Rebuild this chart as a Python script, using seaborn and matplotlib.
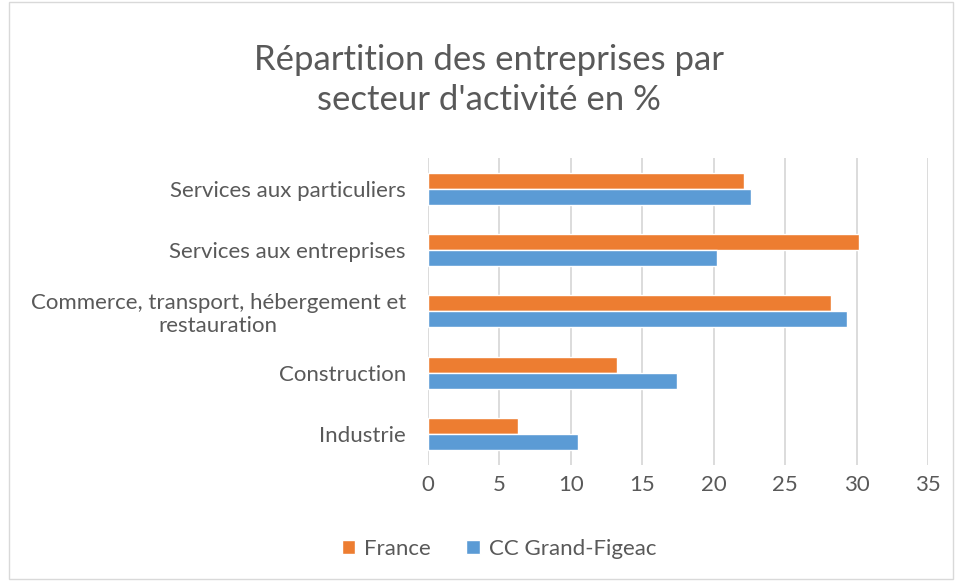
import matplotlib
matplotlib.use("Agg")
import matplotlib.pyplot as plt
import seaborn as sns
import pandas as pd
from matplotlib.patches import Rectangle

categories = ["Services aux particuliers", "Services aux entreprises",
              "Commerce, transport, hébergement et\nrestauration",
              "Construction", "Industrie"]
france = [22.1, 30.2, 28.2, 13.2, 6.3]
cc_figeac = [22.6, 20.2, 29.3, 17.4, 10.5]
series = ["France", "CC Grand-Figeac"]
xticks = [0, 5, 10, 15, 20, 25, 30, 35]

df = pd.DataFrame({
    "cat": categories * 2,
    "val": france + cc_figeac,
    "serie": [series[0]] * len(categories) + [series[1]] * len(categories),
})

sns.set_theme(style="white")
plt.rcParams["font.family"] = ["Lato", "DejaVu Sans"]
txt = "#595959"

fig = plt.figure(figsize=(9.56, 5.81), dpi=100)
ax = fig.add_axes([0.4477, 0.2, 0.523, 0.528])
sns.barplot(data=df, y="cat", x="val", hue="serie", order=categories,
            hue_order=series, palette=["#ED7D31", "#5B9BD5"], orient="h",
            width=0.52, ax=ax, legend=True, saturation=1)
ax.set_xlim(0, 35)
ax.set_ylim(4.5, -0.5)
ax.set_xticks(xticks)
ax.set_xticklabels([str(t) for t in xticks])
ax.xaxis.grid(True, color="#D9D9D9", linewidth=1.3)
ax.set_axisbelow(True)
for s in ax.spines.values():
    s.set_visible(False)
ax.set_xlabel("")
ax.set_ylabel("")
ax.tick_params(axis="both", length=0, labelsize=16, colors=txt)
ax.tick_params(axis="y", pad=16)
ax.tick_params(axis="x", pad=7)
for lab in ax.get_yticklabels():
    lab.set_multialignment("center")
    lab.set_linespacing(1.15)

leg = ax.legend(loc="center", bbox_to_anchor=(0.522, 0.055), bbox_transform=fig.transFigure,
                ncol=2, frameon=False, fontsize=16, handlelength=0.6, handleheight=0.6,
                columnspacing=1.6, handletextpad=0.4)
for t in leg.get_texts():
    t.set_color(txt)

fig.text(0.511, 0.862, "Répartition des entreprises par\nsecteur d'activité en %",
         ha="center", va="center", fontsize=25, color=txt, linespacing=1.3)

fig.patches.append(Rectangle((0.009, 0.004), 0.988, 0.993, transform=fig.transFigure,
                             fill=False, edgecolor="#D9D9D9", linewidth=1))

fig.savefig("out.png", dpi=100, facecolor="white")
